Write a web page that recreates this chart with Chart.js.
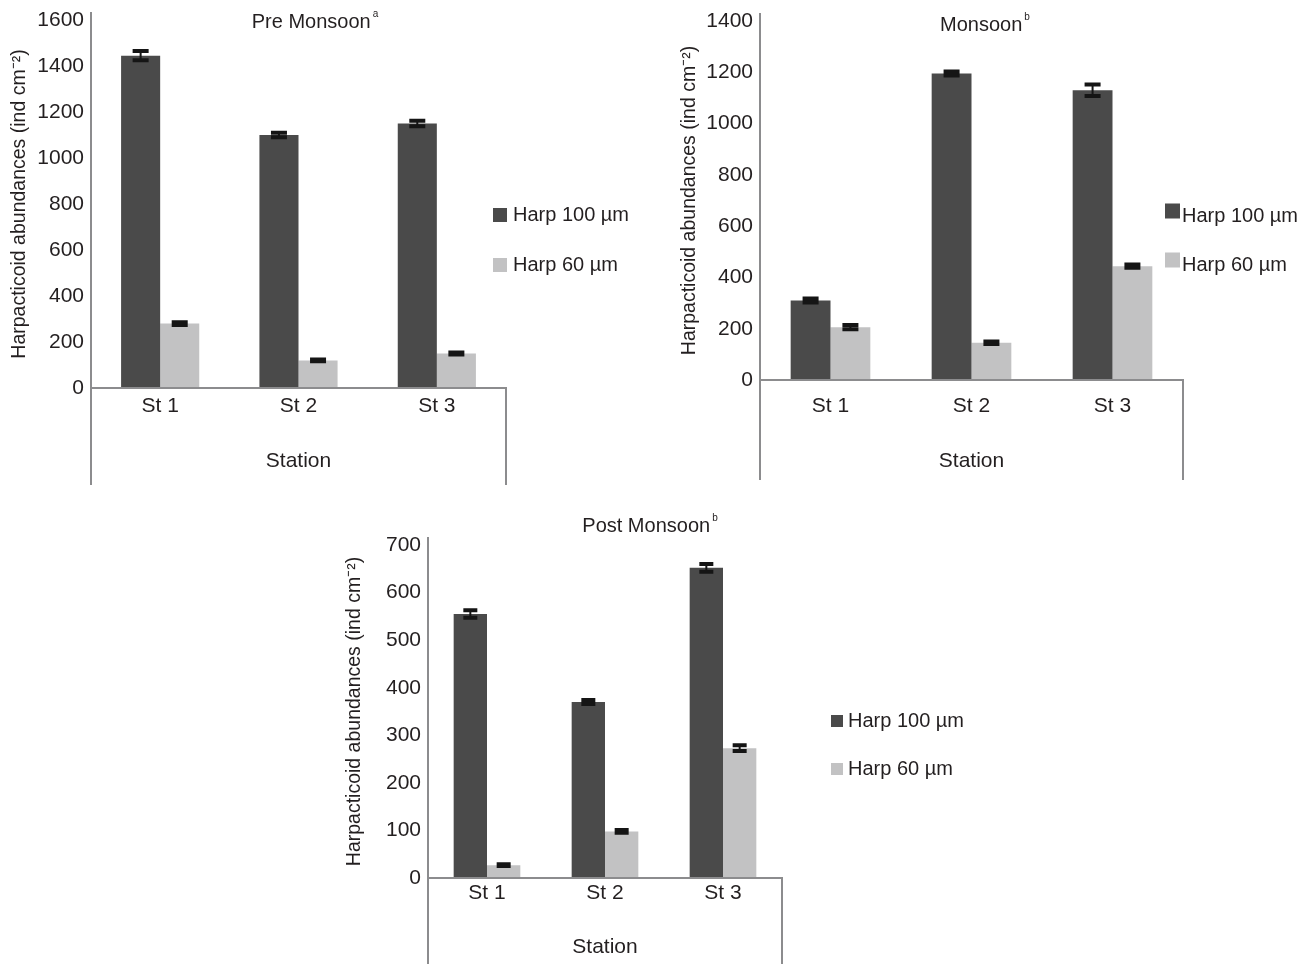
<!DOCTYPE html>
<html lang="en">
<head>
  <meta charset="UTF-8" />
  <title>Harpacticoid abundances</title>
  <script src="https://cdn.jsdelivr.net/npm/chart.js"></script>
  <style>
    body { margin: 0; background: #fff; width: 1309px; height: 964px; position: relative; overflow: hidden; }
    canvas { position: absolute; }
  </style>
</head>
<body>
  <canvas id="pre" width="660" height="490" style="left:0;top:0"></canvas>
  <canvas id="mon" width="639" height="490" style="left:670px;top:0"></canvas>
  <canvas id="post" width="660" height="464" style="left:330px;top:500px"></canvas>

  <script>
    // data
    const stations = ["St 1", "St 2", "St 3"];
    const seriesNames = ["Harp 100 µm", "Harp 60 µm"];

    const preHarp100 = [1445, 1100, 1150];
    const preHarp60 = [280, 120, 150];
    const preErr100 = [20, 10, 12];
    const preErr60 = [6, 4, 4];

    const monHarp100 = [310, 1195, 1130];
    const monHarp60 = [206, 145, 444];
    const monErr100 = [8, 8, 22];
    const monErr60 = [8, 5, 6];

    const postHarp100 = [555, 370, 652];
    const postHarp60 = [27, 98, 273];
    const postErr100 = [8, 4, 8];
    const postErr60 = [2, 3, 6];

    const DARK = "#4a4a4a";
    const LIGHT = "#c2c2c3";
    const INK = "#231f20";
    const FONT = "'Liberation Sans Narrow', 'Liberation Sans', Arial, sans-serif";

    Chart.defaults.font.family = FONT;
    Chart.defaults.font.size = 21;
    Chart.defaults.color = INK;

    // frame lines, error bars, title with superscript and legend
    const extras = {
      id: "extras",
      afterDatasetsDraw(chart, args, o) {
        const ctx = chart.ctx;
        const ys = chart.scales.y;
        ctx.save();
        ctx.strokeStyle = "#151515";
        chart.data.datasets.forEach((ds, i) => {
          chart.getDatasetMeta(i).data.forEach((bar, j) => {
            const v = ds.data[j], e = ds.errors[j];
            const yt = ys.getPixelForValue(v + e), yb = ys.getPixelForValue(v - e);
            ctx.lineWidth = 2;
            ctx.beginPath(); ctx.moveTo(bar.x, yt); ctx.lineTo(bar.x, yb); ctx.stroke();
            ctx.lineWidth = 4;
            ctx.beginPath();
            ctx.moveTo(bar.x - o.cap, yt); ctx.lineTo(bar.x + o.cap, yt);
            ctx.moveTo(bar.x - o.cap, yb); ctx.lineTo(bar.x + o.cap, yb);
            ctx.stroke();
          });
        });
        ctx.restore();
      },
      afterDraw(chart, args, o) {
        const ctx = chart.ctx;
        const { left, right, top, bottom } = chart.chartArea;
        const xb = chart.scales.x.bottom;
        ctx.save();
        ctx.strokeStyle = "#8c8c8e";
        ctx.lineWidth = 2;
        ctx.beginPath();
        ctx.moveTo(left, top - 8); ctx.lineTo(left, xb);
        ctx.moveTo(left, bottom); ctx.lineTo(right, bottom); ctx.lineTo(right, xb);
        ctx.stroke();

        // title
        ctx.fillStyle = INK;
        ctx.textBaseline = "middle";
        ctx.textAlign = "left";
        ctx.font = "20px " + FONT;
        const w1 = ctx.measureText(o.title).width;
        ctx.font = "10px " + FONT;
        const w2 = ctx.measureText(o.sup).width;
        const x0 = o.titleX - (w1 + w2 + 2) / 2;
        ctx.font = "20px " + FONT;
        ctx.fillText(o.title, x0, o.titleY);
        ctx.font = "10px " + FONT;
        ctx.fillText(o.sup, x0 + w1 + 2, o.titleY - 8);

        // legend
        ctx.font = "20px " + FONT;
        chart.data.datasets.forEach((ds, i) => {
          const y = o.legY + i * o.legGap;
          ctx.fillStyle = ds.backgroundColor;
          ctx.fillRect(o.legX, y - o.box / 2 + o.boxShift, o.box, o.box);
          ctx.fillStyle = INK;
          ctx.fillText(ds.label, o.legTextX, y);
        });
        ctx.restore();
      }
    };

    function makeChart(id, v100, v60, e100, e60, lay) {
      return new Chart(document.getElementById(id), {
        type: "bar",
        data: {
          labels: stations,
          datasets: [
            { label: seriesNames[0], data: v100, errors: e100, backgroundColor: DARK },
            { label: seriesNames[1], data: v60, errors: e60, backgroundColor: LIGHT }
          ]
        },
        options: {
          responsive: false,
          animation: false,
          categoryPercentage: 0.565,
          barPercentage: 1.0,
          layout: { padding: lay.padding },
          plugins: {
            legend: { display: false },
            tooltip: { enabled: false },
            extras: lay.extras
          },
          scales: {
            x: {
              grid: { display: false, drawTicks: false },
              border: { display: false },
              ticks: { padding: lay.xTickPad, font: { size: 21 } },
              title: { display: true, text: "Station", font: { size: 21 }, padding: { top: 0, bottom: lay.xTitlePad } },
              afterFit(s) { s.height = lay.xHeight; }
            },
            y: {
              min: 0, max: lay.max,
              grid: { display: false, drawTicks: false },
              border: { display: false },
              ticks: { stepSize: lay.step, padding: 7, font: { size: 21 }, callback: v => String(v) },
              title: { display: true, text: "Harpacticoid abundances (ind cm⁻²)", font: { size: 19.5 }, padding: { top: lay.yTitlePad, bottom: 0 } },
              afterFit(s) { s.width = lay.yWidth; }
            }
          }
        },
        plugins: [extras]
      });
    }

    makeChart("pre", preHarp100, preHarp60, preErr100, preErr60, {
      padding: { left: 0, top: 20, right: 154, bottom: 5 },
      max: 1600, step: 200, yWidth: 91, xHeight: 97,
      xTickPad: 6, xTitlePad: 11, yTitlePad: 8,
      extras: { cap: 8, title: "Pre Monsoon", sup: "a", titleX: 315, titleY: 22,
                legX: 493, legTextX: 513, legY: 215, legGap: 50, box: 14, boxShift: 0 }
    });

    makeChart("mon", monHarp100, monHarp60, monErr100, monErr60, {
      padding: { left: 0, top: 21, right: 126, bottom: 10 },
      max: 1400, step: 200, yWidth: 90, xHeight: 100,
      xTickPad: 14, xTitlePad: 6, yTitlePad: 8,
      extras: { cap: 8, title: "Monsoon", sup: "b", titleX: 315, titleY: 25,
                legX: 495, legTextX: 512, legY: 216, legGap: 49, box: 15, boxShift: -5 }
    });

    makeChart("post", postHarp100, postHarp60, postErr100, postErr60, {
      padding: { left: 0, top: 45, right: 208, bottom: 0 },
      max: 700, step: 100, yWidth: 98, xHeight: 86,
      xTickPad: 3, xTitlePad: 4, yTitlePad: 13,
      extras: { cap: 7, title: "Post Monsoon", sup: "b", titleX: 320, titleY: 26,
                legX: 501, legTextX: 518, legY: 221, legGap: 48, box: 12, boxShift: 0 }
    });
  </script>
</body>
</html>
